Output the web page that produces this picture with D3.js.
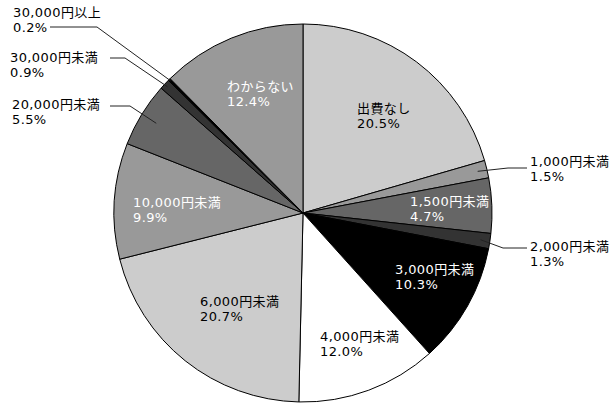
<!DOCTYPE html>
<html>
<head>
<meta charset="utf-8">
<script src="https://cdn.jsdelivr.net/npm/d3@7"></script>
<style>
  body { margin: 0; background: #fff; }
  text { font-family: "DejaVu Sans", "Noto Sans CJK JP", sans-serif; font-size: 13px; letter-spacing: 0.4px; }
</style>
</head>
<body>
<div id="chart"></div>
<script>
// slice data, clockwise from 12 o'clock
const categories = ['出費なし', '1,000円未満', '1,500円未満', '2,000円未満', '3,000円未満', '4,000円未満',
  '6,000円未満', '10,000円未満', '20,000円未満', '30,000円未満', '30,000円以上', 'わからない'];
const values = [20.5, 1.5, 4.7, 1.3, 10.3, 12.0, 20.7, 9.9, 5.5, 0.9, 0.2, 12.4];
const fills = ['#cccccc', '#999999', '#666666', '#333333', '#000000', '#ffffff',
  '#cccccc', '#999999', '#666666', '#333333', '#000000', '#999999'];
const textFills = ['#000', '#000', '#fff', '#000', '#fff', '#000', '#000', '#fff', '#000', '#000', '#000', '#fff'];

// label layout: [x, baseline]
const labelPos = [[357, 113], [530, 166], [410, 206], [530, 251], [395, 274], [320, 341],
  [200, 306], [133, 207], [12, 109], [10, 62], [13, 17], [227, 91]];
// leaders: index -> [radius factor, elbow, end]
const leaders = {
  1: [0.95, [508, 168], [527, 168]],
  3: [0.95, [503, 248], [527, 248]],
  8: [0.91, [130, 106], [110, 106]],
  9: [0.98, [125, 58], [110, 58]],
  10: [0.99, [97, 27], [50, 27]]
};

const width = 613, height = 403;
const cx = 303, cy = 213, r = 189;

const svg = d3.select('#chart').append('svg')
  .attr('width', width)
  .attr('height', height);

const data = values.map((v, i) => ({ name: categories[i], value: v, i: i }));
const pie = d3.pie().value(d => d.value).sort(null);
const arcs = pie(data);
const arc = d3.arc().innerRadius(0).outerRadius(r);

const g = svg.append('g').attr('transform', `translate(${cx},${cy})`);

g.selectAll('path')
  .data(arcs)
  .enter()
  .append('path')
  .attr('d', arc)
  .attr('fill', d => fills[d.data.i])
  .attr('stroke', '#000')
  .attr('stroke-width', 1)
  .attr('stroke-linejoin', 'round');

// leader lines
arcs.forEach(a => {
  const L = leaders[a.data.i];
  if (!L) return;
  const mid = (a.startAngle + a.endAngle) / 2;
  const sx = cx + Math.sin(mid) * r * L[0];
  const sy = cy - Math.cos(mid) * r * L[0];
  svg.append('polyline')
    .attr('points', [[sx, sy], L[1], L[2]].map(p => p.join(',')).join(' '))
    .attr('fill', 'none')
    .attr('stroke', '#222')
    .attr('stroke-width', 1);
});

// labels
arcs.forEach(a => {
  const i = a.data.i;
  const p = labelPos[i];
  const t = svg.append('text')
    .attr('x', p[0])
    .attr('y', p[1])
    .attr('fill', textFills[i]);
  t.append('tspan').attr('x', p[0]).text(categories[i]);
  t.append('tspan').attr('x', p[0]).attr('dy', 15).text(values[i].toFixed(1) + '%');
});
</script>
</body>
</html>
